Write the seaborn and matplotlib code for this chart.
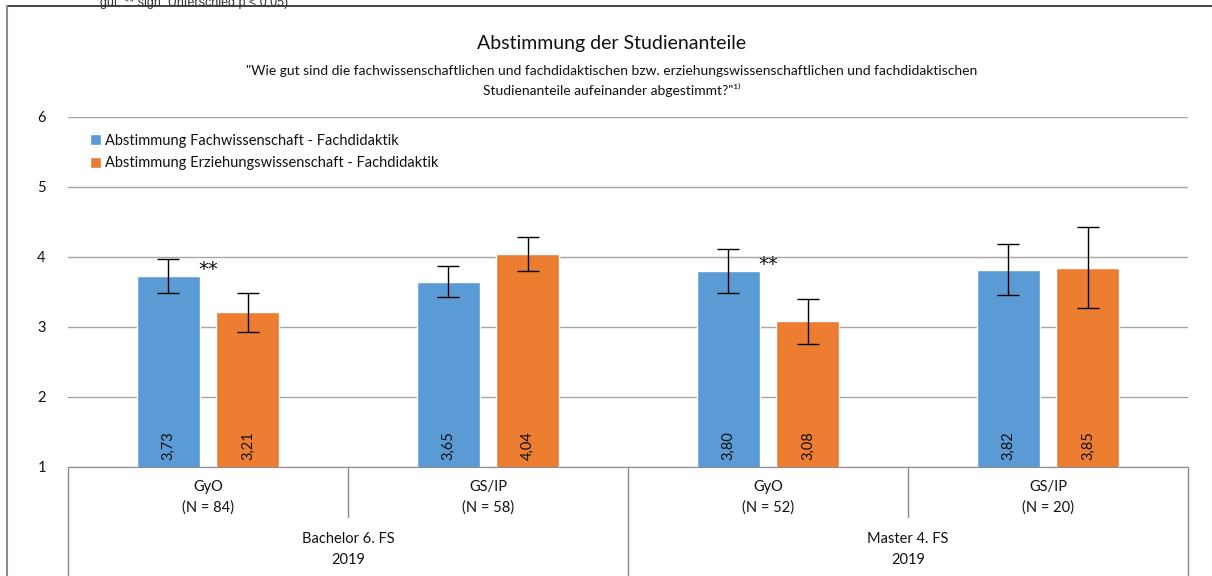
import matplotlib
matplotlib.use("Agg")
import matplotlib.pyplot as plt
import matplotlib.transforms as mtransforms
from matplotlib.lines import Line2D
import pandas as pd
import seaborn as sns

# data
groups = ["GyO\n(N = 84)", "GS/IP\n(N = 58)", "GyO\n(N = 52)", "GS/IP\n(N = 20)"]
outer_labels = ["Bachelor 6. FS\n2019", "Master 4. FS\n2019"]
series = ["Abstimmung Fachwissenschaft - Fachdidaktik",
          "Abstimmung Erziehungswissenschaft - Fachdidaktik"]
fach_vals = [3.73, 3.65, 3.80, 3.82]
erz_vals = [3.21, 4.04, 3.08, 3.85]
fach_err = [0.24, 0.22, 0.31, 0.36]
erz_err = [0.28, 0.24, 0.32, 0.58]
signif = ["**", "", "**", ""]

colors = ["#5B9BD5", "#ED7D31"]

df = pd.DataFrame({
    "group": groups * 2,
    "series": [series[0]] * 4 + [series[1]] * 4,
    "value": fach_vals + erz_vals,
})

sns.set_style("white")
plt.rcParams["font.family"] = ["Lato", "DejaVu Sans"]

fig = plt.figure(figsize=(12.12, 5.76), dpi=100)
ax = fig.add_axes([68 / 1212, 1 - 467 / 576, 1120 / 1212, 350 / 576])

sns.barplot(x="group", y="value", hue="series", data=df, order=groups,
            hue_order=series, palette=colors, width=0.57, gap=0.21,
            errorbar=None, saturation=1, ax=ax)

ax.set_ylim(1, 6)
ax.set_xlim(-0.5, 3.5)
ax.set_yticks([1, 2, 3, 4, 5, 6])
ax.grid(axis="y", color="#a6a6a6", lw=1)
ax.set_axisbelow(True)
for s in ["top", "right", "left"]:
    ax.spines[s].set_visible(False)
ax.spines["bottom"].set_color("#8c8c8c")
ax.tick_params(axis="y", length=0, pad=16, labelsize=10.5, labelcolor="#111111")
ax.tick_params(axis="x", length=0, pad=9, labelsize=10.5, labelcolor="#111111")
ax.set_xlabel("")
ax.set_ylabel("")
for lab in ax.get_xticklabels():
    lab.set_linespacing(1.6)

# error bars and value labels
errs = [fach_err, erz_err]
for cont, err, vals in zip(ax.containers, errs, [fach_vals, erz_vals]):
    for bar, e, v in zip(cont, err, vals):
        cx = bar.get_x() + bar.get_width() / 2
        ax.errorbar(cx, v, yerr=e, color="black", lw=1, capsize=8,
                    capthick=1)
        ax.text(cx, 1.1, f"{v:.2f}".replace(".", ","), rotation=90,
                ha="center", va="bottom", fontsize=10.5, color="#111111")

for i, s in enumerate(signif):
    if s:
        ax.text(i, fach_vals[i] + 0.09, s, ha="center", va="center",
                fontsize=14, color="#111111", family="DejaVu Sans")

# multi-level category axis
trans = mtransforms.blended_transform_factory(ax.transData, ax.transAxes)
for x in [-0.5, 1.5, 3.5]:
    ax.add_line(Line2D([x, x], [0, -0.32], transform=trans, color="#8c8c8c",
                       lw=1, clip_on=False))
for x in [0.5, 2.5]:
    ax.add_line(Line2D([x, x], [0, -0.143], transform=trans, color="#8c8c8c",
                       lw=1, clip_on=False))
for k, lab in enumerate(outer_labels):
    ax.text(0.5 + 2 * k, -0.235, lab, transform=trans, ha="center",
            va="center", fontsize=10.5, color="#111111", linespacing=1.6)

leg = ax.legend(loc="upper left", bbox_to_anchor=(0.008, 0.99), frameon=False,
                fontsize=10.5, handlelength=0.75, handleheight=0.75,
                handletextpad=0.3, labelspacing=0.6)
for t in leg.get_texts():
    t.set_color("#111111")

# titles
fig.text(0.505, 1 - 43 / 576, "Abstimmung der Studienanteile", ha="center",
         va="center", fontsize=14, color="#111111")
fig.text(0.505, 1 - 81 / 576,
         "\"Wie gut sind die fachwissenschaftlichen und fachdidaktischen bzw. "
         "erziehungswissenschaftlichen und fachdidaktischen\n"
         "Studienanteile aufeinander abgestimmt?\"\u00b9\u207e",
         ha="center", va="center", fontsize=10, color="#111111",
         linespacing=1.45)

# note above the frame (cut at the top edge in the reference)
fig.text(100 / 1212, 1 - 3 / 576, "gut; ** sign. Unterschied p < 0,05)",
         ha="left", va="center", fontsize=9, family="Liberation Sans",
         color="#333333")

# outer frame
fig.add_artist(Line2D([7 / 1212, 1], [1 - 6 / 576, 1 - 6 / 576],
                      transform=fig.transFigure, color="#222222", lw=1.2))
fig.add_artist(Line2D([7 / 1212, 7 / 1212], [0, 1 - 6 / 576],
                      transform=fig.transFigure, color="#8c8c8c", lw=1.5))

fig.savefig("out.png", dpi=100)
